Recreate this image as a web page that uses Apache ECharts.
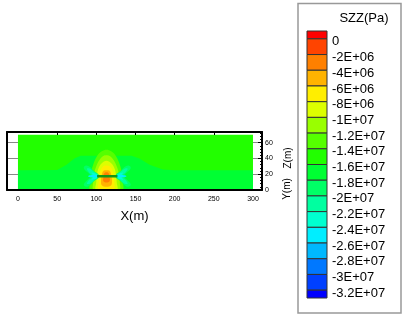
<!DOCTYPE html>
<html>
<head>
<meta charset="utf-8">
<script src="https://cdn.jsdelivr.net/npm/echarts@6/dist/echarts.min.js"></script>
<style>
html, body { margin: 0; padding: 0; background: #fff; }
#chart { width: 404px; height: 317px; }
</style>
</head>
<body>
<div id="chart"></div>
<script>
// legend levels (Pa), top to bottom
const szzLevels = [0, -2e6, -4e6, -6e6, -8e6, -1e7, -1.2e7, -1.4e7, -1.6e7, -1.8e7, -2e7, -2.2e7, -2.4e7, -2.6e7, -2.8e7, -3e7, -3.2e7];
const szzLabels = ['0', '-2E+06', '-4E+06', '-6E+06', '-8E+06', '-1E+07', '-1.2E+07', '-1.4E+07', '-1.6E+07', '-1.8E+07', '-2E+07', '-2.2E+07', '-2.4E+07', '-2.6E+07', '-2.8E+07', '-3E+07', '-3.2E+07'];
const barMax = 1e6;
const barMin = -3.3e7;
const bandColors = ['#ff0000', '#ff4400', '#ff8000', '#ffb300', '#ffee00', '#ddff00', '#99ff00', '#55ff00', '#22ff00',
    '#00ff33', '#00ff66', '#00ffa0', '#00ffd0', '#00eeff', '#00b8ff', '#0078ff', '#0040ff', '#0000ff'];

const xTicks = [0, 50, 100, 150, 200, 250, 300];
const zTicks = [0, 20, 40, 60];

// contour regions, [x(m), z(m)]
const modelBody = [[0, 0], [0, 70], [300, 70], [300, 0]];
const lowerZone = [[0, 0], [0, 25], [50, 25.5], [62, 32], [72, 40], [80, 43.5], [145, 43.5], [155, 40], [168, 32], [185, 26], [200, 25], [300, 25], [300, 0]];
const dome13 = [[93, 0], [92, 10], [93, 20], [96, 32], [101, 43], [107, 49], [113, 51], [119, 49], [125, 43], [130, 32], [133, 20], [134, 10], [133, 0]];
const dome11 = [[97, 0], [96, 10], [97, 20], [100, 30], [104, 38], [109, 43], [113, 44], [117, 43], [122, 38], [126, 30], [129, 20], [130, 10], [129, 0]];
const dome9 = [[100, 0], [100, 10], [101, 20], [103, 28], [107, 34], [113, 37], [119, 34], [123, 28], [125, 20], [126, 10], [126, 0]];
const dome7 = [[103, 1], [103, 10], [104, 20], [106, 26], [109, 30], [113, 31], [117, 30], [120, 26], [122, 20], [123, 10], [122, 1]];
const dome5 = [[107, 6], [106, 12], [107, 19], [109, 24], [113, 25], [117, 24], [119, 19], [120, 12], [119, 6], [113, 4]];
const dome3 = [[109, 11], [109, 16], [110, 21], [113, 22.5], [116, 21], [117, 16], [117, 11], [113, 9.5]];
const lobeL19 = [[103, 19.5], [97, 24], [92, 29], [87, 31], [84, 28], [88, 23], [92, 19], [92, 16], [88, 12], [84, 7], [87, 4], [92, 6], [97, 11], [103, 15.5]];
const lobeL21 = [[102, 19], [97, 23], [92, 27], [88, 27], [91, 22], [95, 18.5], [95, 16.5], [91, 13], [88, 8], [92, 8], [97, 12], [102, 16]];
const lobeL23 = [[102, 18.8], [97, 21.5], [94, 22], [96, 18.5], [96, 16.5], [94, 13], [97, 13.5], [102, 16.2]];
const lobeL25 = [[102, 18.6], [96, 19], [90, 18.2], [90, 16.8], [96, 16], [102, 16.4]];
const lobeR19 = [[125, 19.5], [131, 24], [136, 29], [141, 31], [144, 28], [140, 23], [136, 19], [136, 16], [140, 12], [144, 7], [141, 4], [136, 6], [131, 11], [125, 15.5]];
const lobeR21 = [[126, 19], [131, 23], [136, 27], [140, 27], [137, 22], [133, 18.5], [133, 16.5], [137, 13], [140, 8], [136, 8], [131, 12], [126, 16]];
const lobeR23 = [[126, 18.8], [131, 21.5], [134, 22], [132, 18.5], [132, 16.5], [134, 13], [131, 13.5], [126, 16.2]];
const lobeR25 = [[126, 18.6], [132, 19], [138, 18.2], [138, 16.8], [132, 16], [126, 16.4]];
const seamLine = [[101, 17.5], [127, 17.5]];

// drawn in this order, outer to inner
const fieldRegions = [
    { v: -1.5e7, pts: modelBody },
    { v: -1.7e7, pts: lowerZone },
    { v: -1.3e7, pts: dome13 },
    { v: -1.1e7, pts: dome11 },
    { v: -9e6, pts: dome9 },
    { v: -7e6, pts: dome7 },
    { v: -5e6, pts: dome5 },
    { v: -3e6, pts: dome3 },
    { v: -1.9e7, pts: lobeL19 },
    { v: -1.9e7, pts: lobeR19 },
    { v: -2.1e7, pts: lobeL21 },
    { v: -2.1e7, pts: lobeR21 },
    { v: -2.3e7, pts: lobeL23 },
    { v: -2.3e7, pts: lobeR23 },
    { v: -2.5e7, pts: lobeL25 },
    { v: -2.5e7, pts: lobeR25 }
];

const colorOf = (v) => {
    let i = 0;
    while (i < szzLevels.length && v < szzLevels[i]) i++;
    return bandColors[i];
};

const bands = bandColors.map((c, i) => {
    const hi = i === 0 ? barMax : szzLevels[i - 1];
    const lo = i === szzLevels.length ? barMin : szzLevels[i];
    return [0, lo, hi, i];
});

const chart = echarts.init(document.getElementById('chart'));
const frameLine = { show: true, onZero: false, lineStyle: { color: '#000', width: 2 } };

chart.setOption({
    animation: false,
    backgroundColor: '#fff',
    textStyle: { fontFamily: 'Liberation Sans, Arial, sans-serif' },
    grid: [
        { left: 7, top: 132, width: 255, height: 58 },
        { left: 307, top: 31, width: 20, height: 267 }
    ],
    xAxis: [
        {
            gridIndex: 0, type: 'value', min: -14, max: 311.5, position: 'bottom', z: 10,
            axisLine: frameLine, axisTick: { show: false }, splitLine: { show: false },
            axisLabel: { customValues: xTicks, fontSize: 7, color: '#000', margin: 6 },
            name: 'X(m)', nameLocation: 'middle', nameGap: 20,
            nameTextStyle: { fontSize: 13, color: '#000' }
        },
        {
            gridIndex: 0, type: 'value', min: -14, max: 311.5, position: 'top', z: 10,
            axisLine: frameLine,
            axisTick: { inside: true, length: 3, customValues: [50, 100, 150, 200, 250], lineStyle: { color: '#000' } },
            axisLabel: { show: false }, splitLine: { show: false }
        },
        { gridIndex: 1, type: 'category', data: ['SZZ'], show: false }
    ],
    yAxis: [
        {
            gridIndex: 0, type: 'value', min: 0, max: 73.5, interval: 20, position: 'left', z: 0,
            axisLine: frameLine, axisTick: { show: false }, axisLabel: { show: false },
            splitLine: { show: true, lineStyle: { color: '#888', width: 1 } }
        },
        {
            gridIndex: 0, type: 'value', min: 0, max: 73.5, interval: 20, position: 'right', z: 10,
            axisLine: frameLine,
            axisTick: { inside: true, length: 4, customValues: zTicks, lineStyle: { color: '#000' } },
            minorTick: { show: true, splitNumber: 5, length: 2, lineStyle: { color: '#000' } },
            axisLabel: { customValues: zTicks, fontSize: 7, color: '#000', margin: 3 },
            splitLine: { show: false },
            name: 'Z(m)', nameLocation: 'middle', nameRotate: 90, nameGap: 21,
            nameTextStyle: { fontSize: 10, color: '#000', padding: [0, 0, 0, 6] }
        },
        {
            gridIndex: 1, type: 'value', min: barMin, max: barMax, position: 'right',
            axisLine: { show: false }, axisTick: { show: false }, splitLine: { show: false },
            axisLabel: {
                customValues: szzLevels, fontSize: 13, color: '#000', margin: 5,
                verticalAlign: 'top', lineHeight: 6,
                formatter: (v) => szzLabels[szzLevels.indexOf(v)]
            }
        }
    ],
    graphic: [
        { type: 'rect', shape: { x: 298, y: 3.5, width: 103, height: 309.5 }, style: { fill: 'none', stroke: '#999', lineWidth: 1.5 } },
        { type: 'text', x: 364, y: 18, style: { text: 'SZZ(Pa)', fontSize: 13, fill: '#000', textAlign: 'center', textVerticalAlign: 'middle', fontFamily: 'Liberation Sans, Arial' } },
        { type: 'text', x: 287.5, y: 189, rotation: Math.PI / 2, style: { text: 'Y(m)', fontSize: 10, fill: '#000', textAlign: 'center', textVerticalAlign: 'middle', fontFamily: 'Liberation Sans, Arial' } }
    ],
    series: [
        {
            type: 'custom', xAxisIndex: 0, yAxisIndex: 0, clip: true,
            data: fieldRegions.map((r, i) => [r.pts[0][0], r.pts[0][1], i]),
            encode: { x: 0, y: 1 },
            renderItem: (params, api) => {
                const r = fieldRegions[params.dataIndex];
                return {
                    type: 'polygon',
                    shape: { points: r.pts.map((p) => api.coord(p)), smooth: params.dataIndex >= 2 ? 0.4 : 0 },
                    style: { fill: colorOf(r.v) }
                };
            }
        },
        {
            type: 'line', xAxisIndex: 0, yAxisIndex: 0, data: seamLine, symbol: 'none', z: 3,
            lineStyle: { color: '#159615', width: 2.5 }
        },
        {
            type: 'custom', xAxisIndex: 2, yAxisIndex: 2,
            data: bands, encode: { x: 0, y: [1, 2] },
            renderItem: (params, api) => {
                const top = api.coord([0, api.value(2)]);
                const bot = api.coord([0, api.value(1)]);
                const w = api.size([1, 0])[0];
                return {
                    type: 'rect',
                    shape: { x: top[0] - w / 2, y: top[1], width: w, height: bot[1] - top[1] },
                    style: { fill: bandColors[api.value(3)], stroke: '#333', lineWidth: 1 }
                };
            }
        }
    ]
});
</script>
</body>
</html>
